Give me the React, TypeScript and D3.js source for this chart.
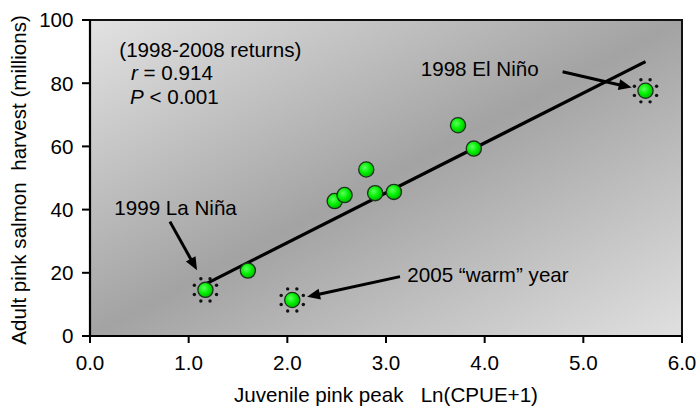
import React from "react";
import * as d3 from "d3";

// Juvenile pink salmon peak catch (Ln(CPUE+1)) and adult harvest of the following return year
const cpue = [5.63, 1.17, 2.48, 2.58, 2.8, 2.89, 3.08, 3.73, 3.89, 1.6, 2.05];
const harvest = [77.6, 14.6, 42.7, 44.6, 52.7, 45.2, 45.6, 66.7, 59.3, 20.7, 11.4];
const flagged = [true, true, false, false, false, false, false, false, false, false, true];

const xTicks = [0, 1, 2, 3, 4, 5, 6];
const yTicks = [0, 20, 40, 60, 80, 100];

const statLines = ["(1998-2008 returns)", "r = 0.914", "P < 0.001"];

// callouts: label anchor (data units) and arrow from -> to (data units)
const callouts = [
  { text: "1998 El Niño", lx: 3.352, ly: 82.3, ax1: 4.79, ay1: 83.6, ax2: 5.49, ay2: 78.6 },
  { text: "1999 La Niña", lx: 0.246, ly: 38.3, ax1: 0.81, ay1: 36.2, ax2: 1.085, ay2: 20.8 },
  { text: "2005 \u201cwarm\u201d year", lx: 3.216, ly: 17.2, ax1: 3.142, ay1: 18.8, ax2: 2.2, ay2: 12.4 },
];

const W = 699;
const H = 408;
const FONT = "'Liberation Sans', Arial, sans-serif";
const FS = 20.6;

export default function App() {
  const x = d3.scaleLinear().domain([0, 6]).range([90, 682]);
  const y = d3.scaleLinear().domain([0, 100]).range([336, 20]);

  // least-squares fit of harvest on cpue
  const mx = d3.mean(cpue) as number;
  const my = d3.mean(harvest) as number;
  let sxy = 0;
  let sxx = 0;
  cpue.forEach((v, i) => {
    sxy += (v - mx) * (harvest[i] - my);
    sxx += (v - mx) * (v - mx);
  });
  const slope = sxy / sxx;
  const icept = my - slope * mx;
  const [x0, x1] = d3.extent(cpue) as [number, number];
  const fitLine = d3.line<number>()
    .x((d) => x(d))
    .y((d) => y(icept + slope * d))([x0, x1]);

  const arrow = (c: (typeof callouts)[number], k: number) => {
    const px1 = x(c.ax1), py1 = y(c.ay1), px2 = x(c.ax2), py2 = y(c.ay2);
    const ang = Math.atan2(py2 - py1, px2 - px1);
    const len = 13, half = 5.5;
    const bx = px2 - len * Math.cos(ang), by = py2 - len * Math.sin(ang);
    const nx = -Math.sin(ang), ny = Math.cos(ang);
    const head = `M${px2},${py2} L${bx + nx * half},${by + ny * half} L${bx - nx * half},${by - ny * half} Z`;
    return (
      <g key={k}>
        <line x1={px1} y1={py1} x2={bx + 2 * Math.cos(ang)} y2={by + 2 * Math.sin(ang)} stroke="#000" strokeWidth={3} />
        <path d={head} fill="#000" />
      </g>
    );
  };

  const ringAngles = d3.range(8).map((i) => (i * Math.PI) / 4 + Math.PI / 8);

  return (
    <svg width={W} height={H} style={{ position: "absolute", left: 0, top: 0, fontFamily: FONT }}>
      <defs>
        <linearGradient id="plotBg" x1="0" y1="0" x2="1" y2="1">
          <stop offset="0" stopColor="#e2e2e2" />
          <stop offset="0.5" stopColor="#a3a3a3" />
          <stop offset="1" stopColor="#e0e0e0" />
        </linearGradient>
        <radialGradient id="dotFill" cx="0.4" cy="0.38" r="0.65">
          <stop offset="0" stopColor="#5dff5d" />
          <stop offset="0.55" stopColor="#00ee00" />
          <stop offset="1" stopColor="#00b400" />
        </radialGradient>
      </defs>

      <rect width={W} height={H} fill="#fff" />
      <rect x={x(0)} y={y(100)} width={x(6) - x(0)} height={y(0) - y(100)} fill="url(#plotBg)" stroke="#111" strokeWidth={2} />

      {/* stats block */}
      <text x={x(0.297)} y={y(88.3)} fontSize={FS} fill="#000">{statLines[0]}</text>
      <text x={x(0.416)} y={y(81.0)} fontSize={FS} fill="#000">
        <tspan fontStyle="italic">r</tspan>
        <tspan>{statLines[1].slice(1)}</tspan>
      </text>
      <text x={x(0.405)} y={y(73.4)} fontSize={FS} fill="#000">
        <tspan fontStyle="italic">P</tspan>
        <tspan>{statLines[2].slice(1)}</tspan>
      </text>

      {/* regression line */}
      <path d={fitLine ?? ""} stroke="#000" strokeWidth={3.2} fill="none" />

      {/* callouts */}
      {callouts.map((c, i) => (
        <text key={`t${i}`} x={x(c.lx)} y={y(c.ly)} fontSize={FS} fill="#000">{c.text}</text>
      ))}
      {callouts.map(arrow)}

      {/* points */}
      {cpue.map((v, i) => (
        <g key={`p${i}`} transform={`translate(${x(v)},${y(harvest[i])})`}>
          {flagged[i] &&
            ringAngles.map((a, j) => (
              <circle key={j} cx={12 * Math.cos(a)} cy={12 * Math.sin(a)} r={1.7} fill="#111" />
            ))}
          <circle r={7.6} fill="url(#dotFill)" stroke="#1d331d" strokeWidth={1.3} />
        </g>
      ))}

      {/* axes */}
      <line x1={x(0)} y1={y(0)} x2={x(6)} y2={y(0)} stroke="#000" strokeWidth={2.2} />
      <line x1={x(0)} y1={y(0)} x2={x(0)} y2={y(100)} stroke="#000" strokeWidth={2.2} />
      {xTicks.map((t) => (
        <g key={`xt${t}`}>
          <line x1={x(t)} x2={x(t)} y1={y(0)} y2={y(0) + 7} stroke="#000" strokeWidth={2} />
          <text x={x(t)} y={370} fontSize={FS} textAnchor="middle" fill="#000">{d3.format(".1f")(t)}</text>
        </g>
      ))}
      {yTicks.map((t) => (
        <g key={`yt${t}`}>
          <line x1={x(0) - 8} x2={x(0)} y1={y(t)} y2={y(t)} stroke="#000" strokeWidth={2} />
          <text x={73.5} y={y(t)} dy="0.36em" fontSize={FS} textAnchor="end" fill="#000">{t}</text>
        </g>
      ))}

      {/* axis titles */}
      <text x={386} y={402} fontSize={FS} textAnchor="middle" fill="#000" style={{ whiteSpace: "pre" }}>
        {"Juvenile pink peak   Ln(CPUE+1)"}
      </text>
      <text transform="translate(25.5,180) rotate(-90)" fontSize={FS} textAnchor="middle" fill="#000" style={{ whiteSpace: "pre" }}>
        {"Adult pink salmon  harvest (millions)"}
      </text>
    </svg>
  );
}
